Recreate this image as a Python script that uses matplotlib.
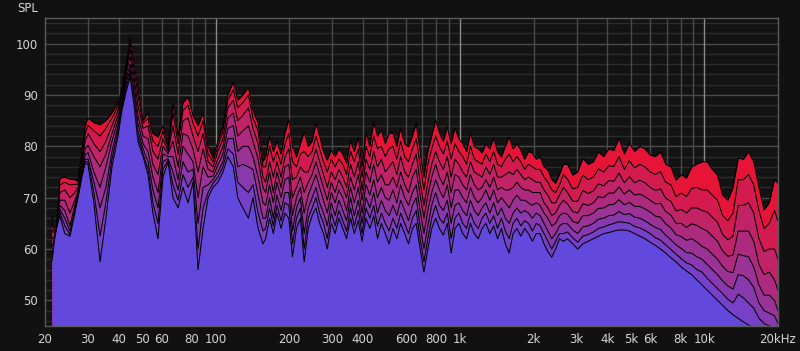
# 频谱衰减（瀑布图正视）重绘
import numpy as np
import matplotlib
matplotlib.use('Agg')
import matplotlib.pyplot as plt
from matplotlib.ticker import NullLocator

# 频率点 (Hz)
freq_hz = [
    21.4, 21.9, 22.3, 23.0, 24.1, 25.3, 26.5, 27.3, 28.3, 29.2, 30.0, 31.7, 33.6, 35.5, 37.6, 39.8,
    41.3, 42.9, 44.6, 46.3, 48.0, 50.4, 52.8, 55.3, 58.0, 60.8, 63.8, 66.8, 70.1, 73.4, 77.0, 80.7,
    84.6, 88.7, 93.0, 97.4, 102, 107, 112, 118, 123, 129, 136, 142, 149, 156,
    160, 166, 172, 178, 185, 192, 199, 206, 214, 222, 230, 239, 248, 257, 266, 276, 286, 297, 308, 319,
    331, 343, 356, 369, 383, 397, 412, 427, 443, 459, 476, 494, 512, 531, 551, 571, 593, 615, 638, 661,
    686, 711, 738, 765, 794, 823, 854, 886, 919, 953, 988, 1025, 1063, 1102, 1143, 1186, 1230, 1275,
    1323, 1372, 1423, 1476, 1531, 1588, 1647, 1708, 1771, 1837, 1905, 1976, 2050, 2126, 2205, 2287,
    2372, 2460, 2551, 2646,
    2750, 2890, 3030, 3180, 3340, 3510, 3680, 3870, 4060, 4260, 4470, 4700, 4930, 5180, 5440, 5710,
    6000, 6300, 6610, 6940, 7290, 7650, 8040, 8440, 8860, 9300, 9770, 10260, 10770, 11310, 11870,
    12470, 13090, 13750, 14430, 15150, 15910, 16710, 17540, 18420, 19340, 20000,
]

# 各时间切片的声压级 (dB)，slice_0 为最早（最高）
slice_0 = [
    66.5, 63, 64, 73.8, 74, 73.6, 73.5, 73.2, 79, 84, 85.5, 84.6, 84.2, 85, 86.5, 88.5, 91, 95.5, 101.2, 96,
    91.4, 85, 86.5, 82.5, 81.8, 84, 80, 88.2, 82, 88.5, 89.6, 86, 84, 86.5, 80, 77.7, 81, 84, 90, 92.5,
    89, 90, 91.5, 87, 84.5, 77,
    78, 82, 79, 81, 78.5, 82.6, 85.3, 80, 77.9, 80.5, 82.8, 80, 81, 84.5, 82, 79, 77.3, 79.3, 78, 79.5,
    78.5, 76.7, 81.2, 79, 81.8, 76, 82.6, 80, 84.7, 82, 83.2, 80.5, 82.5, 82.6, 80, 83.6, 80.5, 79.9, 82, 84.5,
    79, 74, 79, 82, 85.1, 82.6, 81, 83.8, 80.5, 83.6, 81.5, 80.5, 79, 82.6, 80, 79.5, 78.7, 80.5, 79.5, 81.6,
    79, 77.9, 80, 81.8, 79.5, 80.5, 79.3, 77.5, 79, 78.7, 77.5, 77.9, 76, 75.4, 73.5, 72.8, 74.5, 76.5,
    76.5, 74.4, 75, 77.7, 76.5, 77, 78.9, 78, 79.5, 79.2, 81.6, 78.5, 80.6, 79, 80, 79.5, 78.3, 78, 78.9, 76.5,
    76, 73.4, 74.5, 73.8, 76, 76.5, 77, 77, 75.5, 74.4, 70.5, 69.5, 72, 77.7, 77.5, 78.9, 77, 72, 67.6, 69,
    73.5, 72.8,
]
slice_1 = [
    66, 63, 64, 72.5, 73, 72.5, 72.6, 72.6, 77.5, 82.5, 84.1, 83, 82, 83.5, 85.5, 87.8, 90.5, 95, 100.2, 95,
    90, 84.5, 85.5, 81, 80, 83, 79.5, 86.5, 80.5, 87, 88, 84.5, 82, 85, 78.5, 77, 80, 83, 89, 91,
    87.5, 88.5, 90, 85.5, 83, 76,
    76, 80, 77, 79, 76.5, 80.5, 82.5, 77, 76, 78.5, 79, 78, 79, 82, 79.5, 77, 75, 77.5, 76, 77.5,
    76.5, 74.5, 79, 77, 79.5, 74, 80, 78, 82, 79.5, 80, 78, 79.5, 80, 77.5, 81, 78, 77, 79.5, 81.5,
    76.5, 71.5, 76.5, 79.5, 82, 80, 78.5, 81, 77.5, 80.5, 79, 78, 76.5, 80, 77.5, 77, 76.5, 78.5, 77, 79,
    76.5, 76, 77.5, 78.5, 77, 78, 77, 75.5, 76.5, 76, 75.5, 75.5, 74, 73, 71.5, 71, 72.5, 74.5,
    73.6, 71.7, 72, 74.4, 73.5, 74, 75.6, 75, 76.2, 76.1, 78, 75.5, 77.2, 75.8, 76.5, 76, 75, 74.5, 75.1, 73,
    72.5, 70.2, 70.9, 70.2, 71.8, 72, 71.5, 71.5, 70.5, 69.5, 66.5, 65.5, 67, 73.5, 73.5, 74.5, 72.5, 67.5, 64, 65,
    67.5, 65.5,
]
slice_2 = [
    65, 63, 64, 71, 71.5, 70, 71, 72, 76.5, 81, 82.5, 80.5, 79, 81, 84, 87, 90, 94.5, 99, 93.5,
    88, 83.5, 84, 79, 77.5, 81.5, 79, 84, 78.5, 85, 85.5, 82, 79, 82.5, 77, 76, 79, 81.5, 87.5, 89,
    85, 86, 87.5, 83.5, 80.5, 74,
    73, 77, 74, 77, 74, 78, 79.5, 73.5, 74, 76, 75, 75, 77, 79.5, 77, 74.5, 72, 75, 73.5, 75.5,
    74, 72, 76.5, 74, 77, 71.5, 77.5, 75.5, 79, 76, 77.5, 75, 76, 77, 74.5, 78, 75, 74, 76.5, 78.5,
    73, 68.5, 73, 76.5, 79, 77, 75.5, 78, 74, 77.5, 76.5, 75, 74, 77, 75, 74.5, 74, 76, 74.5, 76.5,
    74, 74, 74.5, 75, 74.5, 75.5, 74.5, 73.5, 74, 73.5, 73, 73, 71.5, 70.5, 69, 69, 70.5, 72,
    71, 69.3, 69.3, 71.4, 70.8, 71.3, 72.7, 72.3, 73.3, 73.2, 74.8, 72.9, 74.1, 72.9, 73.4, 72.9, 72, 71.4, 71.7, 69.9,
    69.3, 67.4, 67.7, 67, 68, 68, 67.5, 67.2, 66.2, 65.2, 62.8, 61.8, 62.5, 68.5, 68.5, 69, 67, 62, 59.5, 60,
    60, 58,
]
slice_3 = [
    63.5, 63, 64, 69.5, 69.5, 67, 69.5, 71.3, 75.5, 79.5, 80.2, 78, 76, 78.5, 82.5, 86, 89.5, 93.8, 97.6, 92,
    86, 82, 81.5, 76.5, 74.5, 80, 78.5, 81, 76, 82.5, 82, 79.5, 75, 79.5, 75.5, 75, 77.5, 80, 85.5, 86.5,
    82, 83, 84, 81, 77.5, 72,
    71, 75, 71, 75, 72, 76, 76.5, 70, 72, 74, 71, 73, 74.5, 77, 74.5, 72, 69.5, 73, 71, 73.5,
    72, 70, 74, 71.5, 74.5, 69.5, 75, 73, 76.5, 73, 74.5, 72.5, 72.5, 74, 72, 75, 72.5, 71, 74, 75.5,
    70.5, 66, 70.5, 74, 76.5, 74, 72.5, 75, 71, 74.5, 74, 72.5, 71.5, 74.5, 72.5, 71.5, 72, 73.5, 72, 74,
    71.5, 72, 71.5, 71.5, 72, 73, 72, 71.5, 71.5, 71, 71, 71, 69, 68, 66.5, 67, 68.5, 69.5,
    68.8, 67.3, 67, 68.8, 68.5, 69, 70.2, 70, 70.9, 70.9, 72.1, 70.7, 71.5, 70.5, 70.7, 70.2, 69.5, 68.8, 68.9, 67.3,
    66.6, 65, 65, 64.2, 64.9, 64.6, 64, 63.5, 62.5, 61.5, 59.6, 58.6, 58.8, 63.5, 63.5, 63.5, 61.5, 57, 55, 55.5,
    54, 52,
]
slice_4 = [
    62, 62.5, 64, 68.5, 67.5, 64.5, 68.5, 70.8, 74.8, 78.3, 78.8, 75, 72, 76, 81, 85, 88.8, 93, 96, 90.8,
    84.5, 80.5, 79, 74, 71, 78.5, 78, 78, 73.5, 80, 78.5, 77, 70, 76, 74, 74.2, 76.3, 78.5, 83.5, 84,
    79, 80, 80, 78, 74, 69,
    68.5, 72.5, 69, 73, 70, 73.5, 74, 66.5, 70, 72, 67, 70.5, 72.5, 74.5, 72, 69.5, 67, 71, 69, 71.5,
    70, 67.5, 72, 69, 72, 67, 72.5, 70.5, 73.5, 70, 72, 70, 69.5, 71.5, 69, 72.5, 70, 68.5, 71, 72.5,
    67.5, 63, 67.5, 71, 73.5, 71.5, 70, 72.5, 68, 71.5, 71.5, 70, 69, 72, 70, 69, 70, 71.5, 69.5, 71.5,
    69, 70, 69, 68, 69.5, 70.5, 69.5, 69.5, 69, 68.5, 69, 68.5, 67, 66, 64.5, 65, 66.5, 67,
    66.8, 65.4, 65, 66.5, 66.5, 67, 67.9, 68, 68.6, 68.7, 69.6, 68.6, 69.1, 68.3, 68.3, 67.8, 67.2, 66.4, 66.2, 64.9,
    64.1, 62.8, 62.4, 61.7, 62, 61.4, 60.5, 60, 59, 58, 56.6, 55.6, 55.4, 59, 58.7, 58.5, 56.5, 53, 51, 51,
    50, 48,
]
slice_5 = [
    60.5, 62.3, 64, 67.8, 66, 63.5, 67.8, 70.5, 74.4, 77.5, 77.5, 73, 68, 72, 79, 84, 88.2, 92.2, 95, 89.8,
    83, 79.5, 77, 71.5, 68, 77, 77.6, 75, 71.5, 77, 75, 75.5, 65, 72, 72.5, 73.5, 75, 77, 81.5, 81.5,
    76, 76.5, 76, 75.5, 70.5, 66,
    66, 70, 66, 70.5, 67.5, 71, 71, 63.5, 68, 70, 63, 68, 70, 72, 69, 67, 64.5, 69, 66.5, 69.5,
    67.5, 65.5, 70, 66.5, 69.5, 65, 70, 68, 71, 67, 69.5, 67.5, 66.5, 68.5, 66.5, 69.5, 67.5, 65.5, 68.5, 70,
    64.5, 60, 64.5, 68.5, 71, 68.5, 67.5, 69.5, 65, 68.5, 69, 67.5, 66.5, 69.5, 67.5, 66.5, 68, 69, 67, 69,
    66.5, 68, 66, 65, 67, 68, 67, 67.5, 67, 66, 67, 66.5, 65, 63.5, 62, 63, 64.5, 65,
    64.9, 63.7, 63, 64.3, 64.5, 65, 65.8, 66, 66.5, 66.6, 67.3, 66.7, 66.9, 66.2, 66, 65.5, 64.8, 64.2, 63.8, 62.7,
    61.8, 60.8, 60.1, 59.3, 59.2, 58.5, 58, 57, 56, 55, 53.8, 52.8, 52.2, 55, 54.8, 54, 52.5, 49.5, 48, 47.5,
    47, 45.5,
]
slice_6 = [
    59, 62.1, 64, 67.2, 64.5, 62.8, 67.3, 70.2, 74.2, 77, 77, 71, 62.5, 69, 77.5, 83, 87.6, 91.3, 94.2, 88.8,
    82, 78.5, 75.5, 69, 65, 75.5, 77.3, 72.5, 69.5, 74.5, 72, 74, 60, 68, 71, 72.8, 74, 76, 79.5, 78.5,
    73, 72, 71, 72.5, 67, 63.5,
    64, 68, 64.5, 68.5, 65.5, 69, 68.5, 61, 66, 68, 60, 66, 68, 70, 67, 65, 62, 67, 64.5, 67.5,
    65.5, 63.5, 68, 64.5, 67.5, 63, 68, 66, 68.5, 64.5, 67, 65, 63.5, 66, 64, 67, 65, 63, 66, 67.5,
    62, 57.5, 62, 66, 68.5, 66, 65, 67, 62, 66, 67, 65, 64, 67, 65, 64, 66, 67, 65, 66.5,
    64, 66, 63.5, 62, 65, 66, 64.5, 65.5, 65, 63.5, 65, 64.5, 63, 61.5, 60, 61.5, 63, 63,
    63.3, 62.2, 61.3, 62.5, 62.8, 63.3, 64, 64.3, 64.7, 65, 65.3, 65.2, 65, 64.4, 64.1, 63.6, 63, 62.2, 61.7, 60.8,
    59.9, 59, 58.1, 57.3, 56.9, 56, 55.5, 54.3, 53.3, 52.3, 51.3, 50.2, 49.5, 51.2, 50.5, 49.5, 48.5, 46.5, 45.5, 45,
    44.5, 43.5,
]
slice_7 = [
    57.8, 62, 64, 66.5, 63, 62.5, 67, 70, 74, 76.7, 76.5, 69, 57.5, 66, 76, 82, 87, 90.5, 93.5, 88,
    81, 78, 74.5, 67, 62, 74, 77, 70, 68, 72, 69, 73, 56, 64, 70, 72, 73, 75, 78, 76,
    70, 68, 66, 70, 64, 61,
    62, 66, 63, 67, 64, 67, 66, 58.5, 64, 66, 57.5, 64, 66.5, 68, 65, 63, 60, 65, 63, 66,
    64, 62, 66, 63, 65.5, 61.5, 66, 64, 66.5, 62, 65, 63, 61, 64, 62, 65, 63, 61, 64, 65,
    60, 55.5, 60, 64, 66, 64, 62.7, 65, 59.2, 64, 65, 63, 62, 65, 63, 62, 64, 65, 63, 64.5,
    62, 64, 61, 59.2, 63, 64, 62.5, 64, 63, 61.5, 63, 63, 61, 59.5, 58.4, 60, 62, 61.5,
    62, 61, 60, 61, 61.5, 62, 62.5, 63, 63.2, 63.5, 63.7, 63.7, 63.5, 63, 62.5, 62, 61.3, 60.7, 60, 59.2,
    58.3, 57.5, 56.5, 55.7, 55, 54, 53, 52, 51, 50, 49, 48, 47.2, 46.5, 45.8, 45.2, 44.6, 44, 43.5, 43,
    42.5, 42,
]

x_ticks = [20, 30, 40, 50, 60, 80, 100, 200, 300, 400, 600, 800, 1000, 2000, 3000, 4000, 5000,
           6000, 8000, 10000, 20000]
x_labels = ['20', '30', '40', '50', '60', '80', '100', '200', '300', '400', '600', '800', '1k',
            '2k', '3k', '4k', '5k', '6k', '8k', '10k', '20kHz']
y_ticks = [50, 60, 70, 80, 90, 100]

BG = '#111111'
TEXT = '#d4d4d4'


def draw_waterfall():
    slices = [slice_0, slice_1, slice_2, slice_3, slice_4, slice_5, slice_6, slice_7]
    fig = plt.figure(figsize=(8, 3.51), dpi=100, facecolor=BG)
    ax = fig.add_axes([45 / 800, 25 / 351, 733 / 800, 308 / 351])
    ax.set_facecolor('#131313')
    ax.set_xscale('log')
    ax.set_xlim(20, 20000)
    ax.set_ylim(45, 105)

    # 网格线
    for db in range(46, 105, 2):
        ax.axhline(db, color='#4b4b4b' if db % 10 == 0 else '#2c2c2c', lw=1, zorder=0)
    for dec in (10, 100, 1000, 10000):
        for m in range(1, 10):
            f = dec * m
            if f <= 20 or f >= 20000:
                continue
            ax.axvline(f, color='#8a8a8a' if m == 1 else '#4b4b4b', lw=1, zorder=0)

    # 切片：红 -> 紫
    red = np.array([0xe6, 0x14, 0x37]) / 255
    purple = np.array([0x63, 0x48, 0xde]) / 255
    n = len(slices)
    for i, s in enumerate(slices):
        c = red + (purple - red) * i / (n - 1)
        ax.fill_between(freq_hz, s, 40, color=c, lw=0, zorder=2)
        ax.plot(freq_hz, s, color='black', lw=0.75, zorder=2)

    ax.set_xticks(x_ticks)
    ax.set_xticklabels(x_labels)
    ax.xaxis.set_minor_locator(NullLocator())
    ax.set_yticks(y_ticks)
    ax.tick_params(length=0, colors=TEXT, labelsize=8.5)
    ax.tick_params(axis='y', pad=5)
    ax.tick_params(axis='x', pad=5)
    for sp in ax.spines.values():
        sp.set_color('#5a5a5a')
        sp.set_linewidth(1)
        sp.set_zorder(3)

    fig.text(38 / 800, 1 - 8 / 351, 'SPL', ha='right', va='center', color=TEXT, fontsize=8.5)
    fig.savefig('out.png', dpi=100, facecolor=BG)


if __name__ == '__main__':
    draw_waterfall()
